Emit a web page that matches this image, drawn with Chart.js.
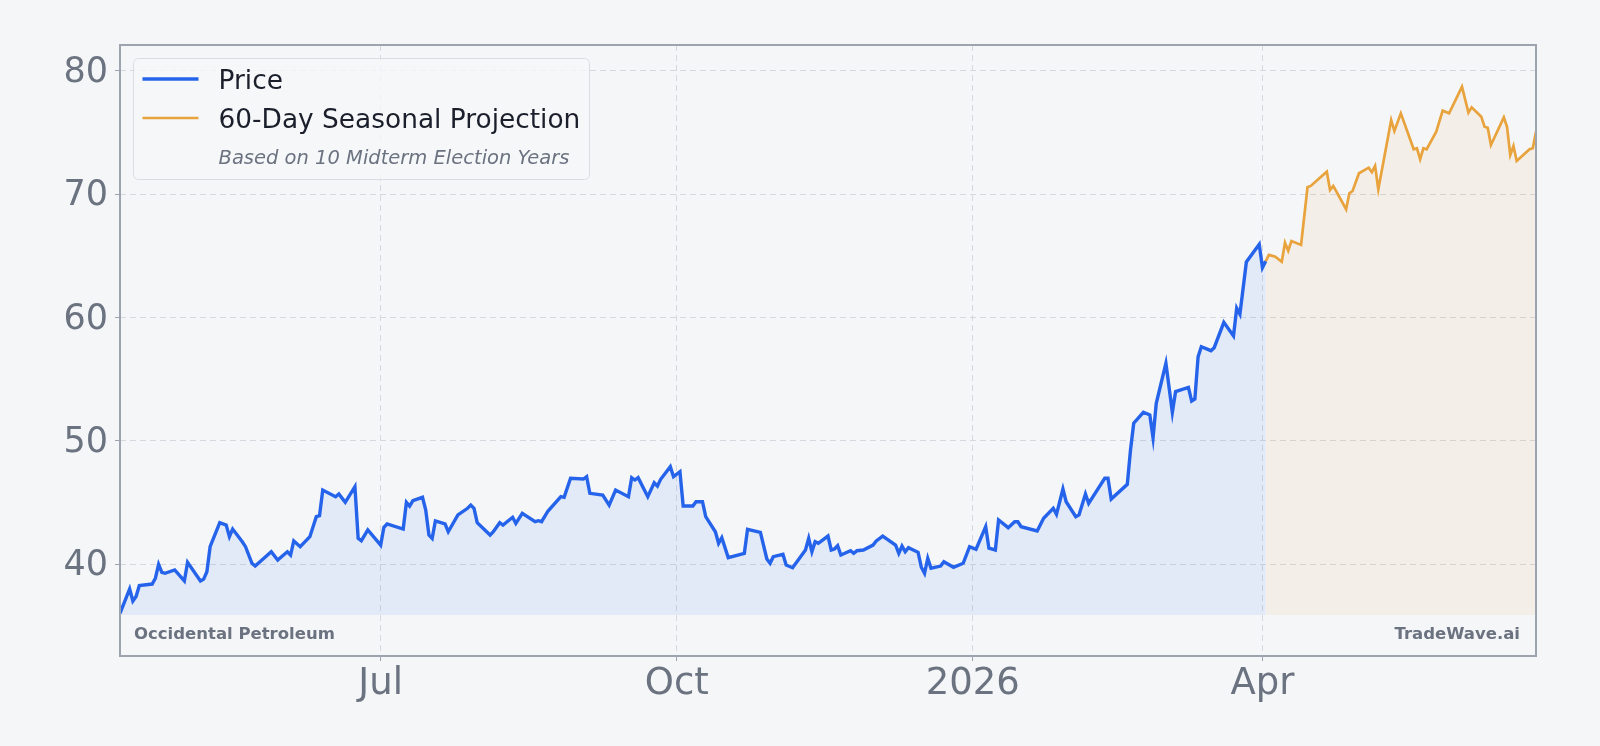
<!DOCTYPE html>
<html>
<head>
<meta charset="utf-8">
<script src="https://cdn.jsdelivr.net/npm/chart.js@4/dist/chart.umd.min.js"></script>
<style>
html,body{margin:0;padding:0;background:#f5f6f8;}
#wrap{width:1600px;height:746px;position:relative;}
canvas{display:block;}
</style>
</head>
<body>
<div id="wrap"><canvas id="c" width="1600" height="746"></canvas></div>
<script>
const priceDates = [
'2025-04-11','2025-04-14','2025-04-15','2025-04-16','2025-04-17','2025-04-21','2025-04-22','2025-04-23','2025-04-24','2025-04-25',
'2025-04-28','2025-05-01','2025-05-02','2025-05-06','2025-05-07','2025-05-08','2025-05-09','2025-05-12','2025-05-14','2025-05-15',
'2025-05-16','2025-05-19','2025-05-20','2025-05-22','2025-05-23','2025-05-28','2025-05-30','2025-06-02','2025-06-03','2025-06-04',
'2025-06-06','2025-06-09','2025-06-11','2025-06-12','2025-06-13','2025-06-17','2025-06-18','2025-06-20','2025-06-23','2025-06-24',
'2025-06-25','2025-06-27','2025-07-01','2025-07-02','2025-07-03','2025-07-08','2025-07-09','2025-07-10','2025-07-11','2025-07-14',
'2025-07-15','2025-07-16','2025-07-17','2025-07-18','2025-07-21','2025-07-22','2025-07-25','2025-07-28','2025-07-29','2025-07-30',
'2025-07-31','2025-08-04','2025-08-05','2025-08-07','2025-08-08','2025-08-11','2025-08-12','2025-08-14','2025-08-18','2025-08-19',
'2025-08-20','2025-08-22','2025-08-26','2025-08-27','2025-08-29','2025-09-02','2025-09-03','2025-09-04','2025-09-08','2025-09-10',
'2025-09-12','2025-09-16','2025-09-17','2025-09-18','2025-09-19','2025-09-22','2025-09-24','2025-09-25','2025-09-26','2025-09-29',
'2025-09-30','2025-10-02','2025-10-03','2025-10-06','2025-10-07','2025-10-09','2025-10-10','2025-10-13','2025-10-14','2025-10-15',
'2025-10-17','2025-10-22','2025-10-23','2025-10-27','2025-10-29','2025-10-30','2025-10-31','2025-11-03','2025-11-04','2025-11-06',
'2025-11-10','2025-11-11','2025-11-12','2025-11-13','2025-11-14','2025-11-17','2025-11-18','2025-11-19','2025-11-20','2025-11-21',
'2025-11-24','2025-11-25','2025-11-26','2025-11-28','2025-12-01','2025-12-02','2025-12-04','2025-12-08','2025-12-09','2025-12-10',
'2025-12-11','2025-12-12','2025-12-15','2025-12-16','2025-12-17','2025-12-18','2025-12-19','2025-12-22','2025-12-23','2025-12-26',
'2025-12-29','2025-12-31','2026-01-02','2026-01-05','2026-01-06','2026-01-08','2026-01-09','2026-01-12','2026-01-14','2026-01-15',
'2026-01-16','2026-01-21','2026-01-23','2026-01-26','2026-01-27','2026-01-29','2026-01-30','2026-02-02','2026-02-03','2026-02-05',
'2026-02-06','2026-02-11','2026-02-12','2026-02-13','2026-02-18','2026-02-19','2026-02-20','2026-02-23','2026-02-25','2026-02-26',
'2026-02-27','2026-03-02','2026-03-04','2026-03-05','2026-03-09','2026-03-10','2026-03-11','2026-03-12','2026-03-13','2026-03-16',
'2026-03-17','2026-03-20','2026-03-23','2026-03-24','2026-03-25','2026-03-27','2026-03-31','2026-04-01','2026-04-02'
];
const priceValues = [
36.03,38.0,37.03,37.4,38.27,38.4,38.87,40.0,39.35,39.27,
39.54,38.65,40.16,38.65,38.8,39.4,41.43,43.37,43.18,42.24,
42.86,41.83,41.43,40.08,39.86,41.02,40.35,41.02,40.75,41.89,
41.43,42.24,43.86,43.94,46.02,45.48,45.7,45.02,46.29,42.1,
41.91,42.78,41.56,43.0,43.27,42.86,45.02,44.72,45.15,45.43,
44.4,42.37,42.1,43.51,43.27,42.64,44.0,44.54,44.8,44.54,
43.37,42.37,42.64,43.37,43.18,43.81,43.32,44.13,43.45,43.53,
43.45,44.32,45.48,45.43,46.97,46.91,47.1,45.75,45.61,44.8,
46.02,45.48,47.02,46.83,47.02,45.48,46.61,46.34,46.89,47.91,
47.1,47.5,44.72,44.72,45.07,45.07,43.86,42.64,41.7,42.16,
40.54,40.89,42.84,42.59,40.43,40.08,40.62,40.81,39.94,39.72,
41.16,42.1,41.02,41.83,41.7,42.29,41.16,41.24,41.51,40.75,
41.1,40.89,41.1,41.16,41.56,41.89,42.29,41.56,40.89,41.48,
41.02,41.35,40.97,39.76,39.27,40.49,39.68,39.86,40.21,39.76,
40.08,41.43,41.22,43.05,41.3,41.16,43.59,42.97,43.45,43.45,
43.05,42.7,43.73,44.54,44.05,46.1,45.07,43.86,44.0,45.7,
44.94,46.97,46.97,45.29,46.48,49.26,51.43,52.32,52.1,50.26,
53.05,56.29,52.32,53.99,54.34,53.23,53.4,56.82,57.63,57.31,
57.55,59.61,58.5,60.75,60.26,64.5,65.93,64.04,64.55
];
const projDates = [
'2026-04-02','2026-04-03','2026-04-05','2026-04-07','2026-04-08','2026-04-09','2026-04-10','2026-04-13','2026-04-15','2026-04-16',
'2026-04-21','2026-04-22','2026-04-23','2026-04-27','2026-04-28','2026-04-29','2026-05-01','2026-05-04','2026-05-05','2026-05-06',
'2026-05-07','2026-05-11','2026-05-12','2026-05-14','2026-05-18','2026-05-19','2026-05-20','2026-05-21','2026-05-22','2026-05-25',
'2026-05-27','2026-05-29','2026-06-02','2026-06-04','2026-06-05','2026-06-08','2026-06-09','2026-06-10','2026-06-11','2026-06-15',
'2026-06-16','2026-06-17','2026-06-18','2026-06-19','2026-06-23','2026-06-24','2026-06-25'
];
const projValues = [
64.55,65.07,64.93,64.52,66.06,65.41,66.2,65.88,70.55,70.66,
71.82,70.33,70.66,68.77,70.06,70.25,71.69,72.14,71.77,72.28,
70.39,76.0,75.11,76.54,73.63,73.71,72.82,73.71,73.63,75.06,
76.76,76.54,78.7,76.6,77.03,76.27,75.46,75.38,73.98,76.22,
75.46,73.17,73.9,72.68,73.63,73.71,75.06
];
const tickDates = ['2025-07-01','2025-10-01','2026-01-01','2026-04-01'];
const tickLabels = ['Jul','Oct','2026','Apr'];
const yTicks = [40,50,60,70,80];
const fillBase = 35.9;
const yMin = 32.57, yMax = 82.08;
const companyName = 'Occidental Petroleum';
const brandName = 'TradeWave.ai';
const legendItems = ['Price','60-Day Seasonal Projection'];
const legendNote = 'Based on 10 Midterm Election Years';

const FONT = '"DejaVu Sans", "Noto Sans", sans-serif';
const BLUE = '#2563eb', ORANGE = '#e8a33c', GRAY = '#6b7280';
const DAY = 86400000, BASE = Date.UTC(2025, 6, 1);
function toDay(s){ const p = s.split('-').map(Number); return (Date.UTC(p[0], p[1]-1, p[2]) - BASE) / DAY; }
const tickDays = tickDates.map(toDay);

const overlay = {
  id: 'overlay',
  afterDraw(chart) {
    const ctx = chart.ctx, a = chart.chartArea;
    ctx.save();
    // frame
    ctx.strokeStyle = '#9ea3b0';
    ctx.lineWidth = 2;
    ctx.strokeRect(a.left, a.top, a.right - a.left, a.bottom - a.top);
    // legend box
    const bx = a.left + 13.5, by = a.top + 13.5, bw = 456, bh = 121, r = 5;
    ctx.beginPath();
    ctx.moveTo(bx + r, by);
    ctx.arcTo(bx + bw, by, bx + bw, by + bh, r);
    ctx.arcTo(bx + bw, by + bh, bx, by + bh, r);
    ctx.arcTo(bx, by + bh, bx, by, r);
    ctx.arcTo(bx, by, bx + bw, by, r);
    ctx.closePath();
    ctx.fillStyle = 'rgba(246,247,249,0.8)';
    ctx.fill();
    ctx.strokeStyle = '#d9dce2';
    ctx.lineWidth = 1;
    ctx.stroke();
    // legend lines
    ctx.lineCap = 'butt';
    ctx.strokeStyle = BLUE; ctx.lineWidth = 3.5;
    ctx.beginPath(); ctx.moveTo(bx + 9, a.top + 34); ctx.lineTo(bx + 65, a.top + 34); ctx.stroke();
    ctx.strokeStyle = ORANGE; ctx.lineWidth = 2.6;
    ctx.beginPath(); ctx.moveTo(bx + 9, a.top + 73); ctx.lineTo(bx + 65, a.top + 73); ctx.stroke();
    // legend text
    ctx.fillStyle = '#1a1f2b';
    ctx.font = '26.4px ' + FONT;
    ctx.textAlign = 'left'; ctx.textBaseline = 'alphabetic';
    ctx.fillText(legendItems[0], bx + 85, a.top + 44);
    ctx.fillText(legendItems[1], bx + 85, a.top + 83);
    ctx.fillStyle = GRAY;
    ctx.font = 'italic 19.5px ' + FONT;
    ctx.fillText(legendNote, bx + 85, a.top + 119);
    // footer labels
    ctx.font = 'bold 16.5px ' + FONT;
    ctx.fillStyle = GRAY;
    ctx.textAlign = 'left';
    ctx.fillText(companyName, a.left + 14, a.bottom - 17);
    ctx.textAlign = 'right';
    ctx.fillText(brandName, a.right - 16, a.bottom - 17);
    ctx.restore();
  }
};

new Chart(document.getElementById('c'), {
  type: 'line',
  data: {
    datasets: [
      {
        label: legendItems[0],
        data: priceDates.map((d, i) => ({ x: toDay(d), y: priceValues[i] })),
        borderColor: BLUE, borderWidth: 3.4, pointRadius: 0, tension: 0,
        fill: { value: fillBase }, backgroundColor: 'rgba(59,130,246,0.1)'
      },
      {
        label: legendItems[1],
        data: projDates.map((d, i) => ({ x: toDay(d), y: projValues[i] })),
        borderColor: ORANGE, borderWidth: 2.7, pointRadius: 0, tension: 0,
        fill: { value: fillBase }, backgroundColor: 'rgba(232,163,60,0.085)'
      }
    ]
  },
  options: {
    responsive: false,
    animation: false,
    devicePixelRatio: 1,
    layout: { padding: { top: 45, right: 64, bottom: 0, left: 0 } },
    plugins: { legend: { display: false }, tooltip: { enabled: false } },
    scales: {
      x: {
        type: 'linear',
        min: toDay(priceDates[0]),
        max: toDay(projDates[projDates.length - 1]),
        afterBuildTicks: s => { s.ticks = tickDays.map(v => ({ value: v })); },
        afterFit: s => { s.height = 90; },
        ticks: {
          autoSkip: false, maxRotation: 0, padding: 1,
          color: GRAY, font: { family: FONT, size: 37 },
          callback: v => { const i = tickDays.indexOf(v); return i >= 0 ? tickLabels[i] : ''; }
        },
        grid: { color: '#d5d8de', lineWidth: 1, tickLength: 5, tickColor: '#9ea3b0', tickBorderDash: [] },
        border: { display: false, dash: [6, 4] }
      },
      y: {
        min: yMin, max: yMax,
        afterBuildTicks: s => { s.ticks = yTicks.map(v => ({ value: v })); },
        afterFit: s => { s.width = 120; },
        ticks: { padding: 7, labelOffset: 2, color: GRAY, font: { family: FONT, size: 35 } },
        grid: { color: '#d5d8de', lineWidth: 1, tickLength: 5, tickColor: '#9ea3b0', tickBorderDash: [] },
        border: { display: false, dash: [6, 4] }
      }
    }
  },
  plugins: [overlay]
});
</script>
</body>
</html>
